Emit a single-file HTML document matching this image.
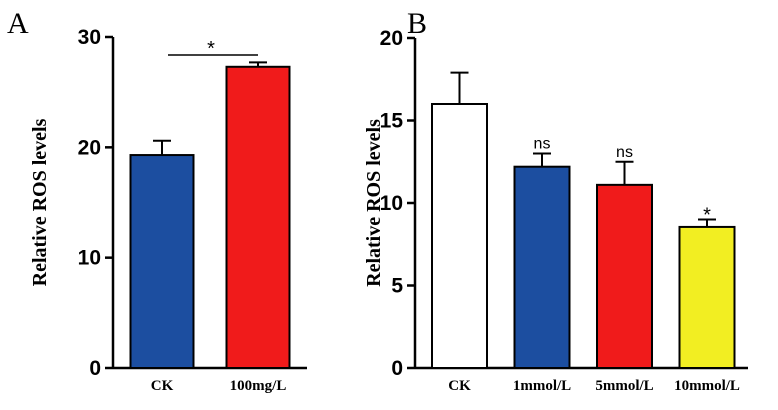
<!DOCTYPE html>
<html><head><meta charset="utf-8"><style>
body{margin:0;background:#fff;}
svg{display:block;font-family:"Liberation Serif",serif;}
</style></head><body>
<svg id="c" width="778" height="410" xmlns="http://www.w3.org/2000/svg"></svg>
<script>
const catsA=["CK","100mg/L"];
const valsA=[19.3,27.3];
const errA=[1.3,0.4];
const colsA=["#1c4ea0","#f01b1b"];
const ticksA=[0,10,20,30];
const catsB=["CK","1mmol/L","5mmol/L","10mmol/L"];
const valsB=[16.0,12.2,11.1,8.55];
const errB=[1.9,0.8,1.4,0.45];
const colsB=["#ffffff","#1c4ea0","#f01b1b","#f2ee22"];
const sigB=["","ns","ns","*"];
const ticksB=[0,5,10,15,20];
const svg=document.getElementById('c');
const NS="http://www.w3.org/2000/svg";
function mk(t,a,txt){const e=document.createElementNS(NS,t);for(const k in a)e.setAttribute(k,a[k]);if(txt!==undefined)e.textContent=txt;svg.appendChild(e);return e;}
function panel(o){
 const y=v=>o.y0-(v/o.max)*(o.y0-o.y1);
 let e;
 e=mk('line',{x1:o.ax,y1:o.y0+1,x2:o.ax,y2:o.y1,stroke:'#000','stroke-width':2.5});
 
 e=mk('line',{x1:o.ax,y1:o.y0,x2:o.ax2,y2:o.y0,stroke:'#000','stroke-width':2.5});
 
 o.ticks.forEach(t=>{
  mk('line',{x1:o.ax-8,y1:y(t),x2:o.ax,y2:y(t),stroke:'#000','stroke-width':2.5});
  e=mk('text',{x:o.ax-12,y:y(t)+7,'text-anchor':'end','font-size':21,'font-weight':'bold','font-family':'Liberation Sans, sans-serif'},t);
  
 });
 o.cats.forEach((c,i)=>{
  const cx=o.x0+i*o.step, w=o.bw, top=y(o.vals[i]), et=y(o.vals[i]+o.err[i]);
  mk('line',{x1:cx,y1:top,x2:cx,y2:et,stroke:'#000','stroke-width':2});
  mk('line',{x1:cx-9,y1:et,x2:cx+9,y2:et,stroke:'#000','stroke-width':2});
  e=mk('rect',{x:cx-w/2,y:top,width:w,height:o.y0-top,fill:o.cols[i],stroke:'#000','stroke-width':2});
  
  e=mk('text',{x:cx,y:o.y0+22,'text-anchor':'middle','font-size':15,'font-weight':'bold'},c);
  
  if(o.sig&&o.sig[i]){e=mk('text',{x:cx,y:et-5,'text-anchor':'middle','font-size':o.sig[i]=='*'?20:16,'font-family':'Liberation Sans, sans-serif'},o.sig[i]);
   if(o.sig[i]=='*')e.setAttribute('y',et+2);
   }
 });
 e=mk('text',{transform:`translate(${o.lx},${(o.y0+o.y1)/2}) rotate(-90)`,'text-anchor':'middle','font-size':20,'font-weight':'bold'},'Relative ROS levels');
 
 e=mk('text',{x:o.lettx,y:33,'font-size':30},o.letter);
 
}
panel({p:'a',ax:113,ax2:307,y0:368,y1:37,max:30,ticks:ticksA,cats:catsA,vals:valsA,err:errA,cols:colsA,x0:162,step:96,bw:63,lx:46,lettx:7,letter:'A'});
let e=mk('line',{x1:168,y1:55,x2:258,y2:55,stroke:'#000','stroke-width':1.5});

e=mk('text',{x:211,y:55,'text-anchor':'middle','font-size':20,'font-family':'Liberation Sans, sans-serif'},'*');

panel({p:'b',ax:415,ax2:748,y0:368,y1:38,max:20,ticks:ticksB,cats:catsB,vals:valsB,err:errB,cols:colsB,sig:sigB,x0:459.5,step:82.5,bw:55,lx:380,lettx:407,letter:'B'});
</script>
</body></html>
